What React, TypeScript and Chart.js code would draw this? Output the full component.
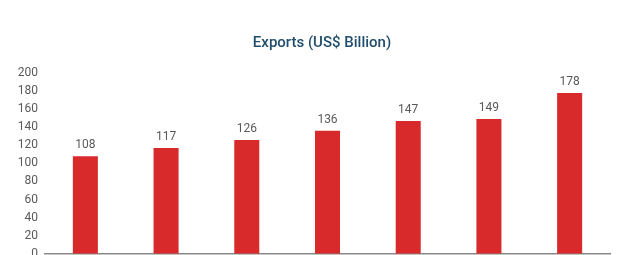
import React, { useEffect, useRef } from "react";
import { Chart, registerables } from "chart.js";

Chart.register(...registerables);

const categories = ["1", "2", "3", "4", "5", "6", "7"];
const exportsValues = [108, 117, 126, 136, 147, 149, 178];
const yTicks = [0, 20, 40, 60, 80, 100, 120, 140, 160, 180, 200];
const titleText = "Exports (US$ Billion)";

const labelPlugin = {
  id: "barLabels",
  afterDatasetsDraw(chart: any) {
    const ctx = chart.ctx;
    const meta = chart.getDatasetMeta(0);
    ctx.save();
    ctx.fillStyle = "#595959";
    ctx.font = "12px Roboto";
    ctx.textAlign = "center";
    ctx.textBaseline = "bottom";
    meta.data.forEach((bar: any, i: number) => {
      ctx.fillText(String(exportsValues[i]), bar.x, bar.y - 5);
    });
    ctx.restore();
  },
};

const titlePlugin = {
  id: "topTitle",
  afterDraw(chart: any) {
    const ctx = chart.ctx;
    ctx.save();
    ctx.fillStyle = "#1f4d6b";
    ctx.font = "500 15px Roboto";
    ctx.textAlign = "center";
    ctx.textBaseline = "middle";
    ctx.fillText(titleText, 322, 43);
    ctx.restore();
  },
};

export default function App() {
  const ref = useRef<HTMLCanvasElement>(null);
  useEffect(() => {
    if (!ref.current) return;
    const chart = new Chart(ref.current, {
      type: "bar",
      data: {
        labels: categories,
        datasets: [
          {
            data: exportsValues,
            backgroundColor: "#d82a2a",
            borderWidth: 0,
            categoryPercentage: 1,
            barPercentage: 0.31,
          },
        ],
      },
      options: {
        animation: false,
        responsive: false,
        maintainAspectRatio: false,
        layout: { padding: { top: 73, bottom: 1, left: 0, right: 30 } },
        plugins: {
          legend: { display: false },
          title: { display: false },
          tooltip: { enabled: false },
        },
        scales: {
          x: {
            grid: { display: false, drawTicks: false },
            border: { display: true, color: "#8a8a8a", width: 1.5 },
            ticks: { display: false },
          },
          y: {
            min: 0,
            max: 200,
            afterBuildTicks(scale: any) {
              scale.ticks = yTicks.map((v) => ({ value: v }));
            },
            afterFit(scale: any) {
              scale.width = 45;
            },
            grid: { display: false, drawTicks: false },
            border: { display: false },
            ticks: {
              color: "#595959",
              font: { family: "Roboto", size: 12 },
              padding: 7,
            },
          },
        },
      },
      plugins: [labelPlugin, titlePlugin],
    });
    return () => chart.destroy();
  }, []);
  return (
    <div style={{ position: "fixed", left: 0, top: 0, width: 640, height: 255, overflow: "hidden", background: "#fff" }}>
      <canvas ref={ref} width={640} height={268} />
    </div>
  );
}
